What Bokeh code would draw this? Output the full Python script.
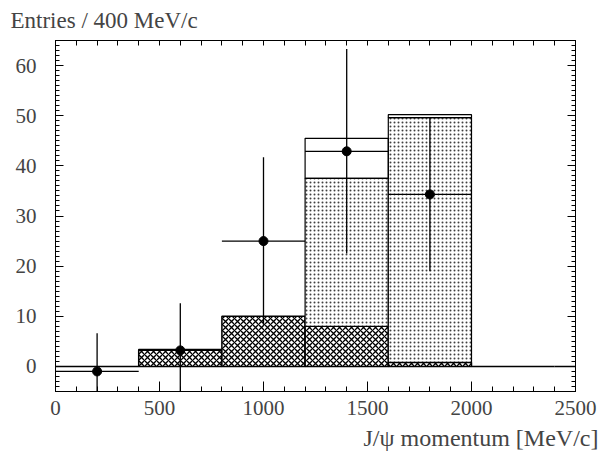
from bokeh.plotting import figure
from bokeh.models import Range1d, LinearAxis, SingleIntervalTicker, Title, ColumnDataSource
from bokeh.embed import file_html
from bokeh.resources import INLINE

# ---- data ----
bin_lo = [0, 400, 800, 1200, 1600, 2000, 2400]
bin_hi = [400, 800, 1200, 1600, 2000, 2400, 2800]
background = [0.0, 3.4, 10.0, 8.0, 0.8, 0.0, 0.0]     # cross-hatched
signal = [0.0, 0.0, 0.0, 29.5, 48.8, 0.0, 0.0]        # stippled, stacked on background
extra = [0.0, 0.0, 0.0, 8.0, 0.6, 0.0, 0.0]           # open boxes, stacked on top

data_x = [200, 600, 1000, 1400, 1800]
data_y = [-1.0, 3.2, 25.0, 42.9, 34.3]
data_err = [7.6, 9.4, 16.7, 20.4, 15.3]
data_halfwidth = [200, 200, 200, 200, 200]

x_ticks_major = 500
y_ticks_major = 10

FONT = "Liberation Serif"

p = figure(width=600, height=466, x_range=Range1d(0, 2500), y_range=Range1d(-5, 65),
           output_backend="svg", toolbar_location=None,
           min_border_left=55, min_border_right=25, min_border_top=40, min_border_bottom=75)
p.xgrid.visible = False
p.ygrid.visible = False
p.outline_line_color = "black"
p.outline_line_width = 1
p.background_fill_color = "white"
p.border_fill_color = "white"

# title (y label)
p.title.text = "Entries / 400 MeV/c"
p.title.align = "left"
p.title.vertical_align = "top"
p.title.offset = -45
p.title.text_font = FONT
p.title.text_font_size = "23px"
p.title.text_font_style = "normal"
p.title.standoff = 12

# bottom axis
xa = p.xaxis[0]
xa.ticker = SingleIntervalTicker(interval=x_ticks_major, num_minor_ticks=5)
xa.major_tick_in = 10
xa.major_tick_out = 0
xa.minor_tick_in = 5
xa.minor_tick_out = 0
xa.major_label_text_font = FONT
xa.major_label_text_font_size = "21px"
xa.major_label_standoff = 9
xa.axis_line_color = "black"

# left axis
ya = p.yaxis[0]
ya.ticker = SingleIntervalTicker(interval=y_ticks_major, num_minor_ticks=10)
ya.major_tick_in = 8
ya.major_tick_out = 0
ya.minor_tick_in = 4
ya.minor_tick_out = 0
ya.major_label_text_font = FONT
ya.major_label_text_font_size = "21px"
ya.major_label_standoff = 19
ya.axis_line_color = "black"

# mirror axes (ticks only)
top = LinearAxis(ticker=SingleIntervalTicker(interval=100, num_minor_ticks=0),
                 major_tick_in=5, major_tick_out=0, minor_tick_in=0, minor_tick_out=0,
                 major_label_text_color=None, major_label_text_font_size="1px",
                 major_label_standoff=0)
p.add_layout(top, "above")
right = LinearAxis(ticker=SingleIntervalTicker(interval=y_ticks_major, num_minor_ticks=10),
                   major_tick_in=8, major_tick_out=0, minor_tick_in=4, minor_tick_out=0,
                   major_label_text_color=None, major_label_text_font_size="1px",
                   major_label_standoff=0)
p.add_layout(right, "right")

# x label
p.add_layout(Title(text="J/\u03c8 momentum [MeV/c]", align="right", offset=-23,
                   text_font=FONT, text_font_size="24px", text_font_style="normal",
                   standoff=10), "below")

# histograms
bg_src = ColumnDataSource(dict(l=bin_lo, r=bin_hi, b=[0.0] * len(bin_lo), t=background))
p.quad(left="l", right="r", bottom="b", top="t", source=bg_src,
       fill_color="white", hatch_pattern="diagonal_cross", hatch_scale=6, hatch_weight=1.3,
       hatch_color="black", line_color="black", line_width=1.5)

idx = [i for i, s in enumerate(signal) if s > 0]
sig_src = ColumnDataSource(dict(
    l=[bin_lo[i] for i in idx], r=[bin_hi[i] for i in idx],
    b=[background[i] for i in idx], t=[background[i] + signal[i] for i in idx]))
p.quad(left="l", right="r", bottom="b", top="t", source=sig_src,
       fill_color="white", hatch_pattern="dot", hatch_scale=4, hatch_weight=0.8,
       hatch_color="black", hatch_alpha=0.75, line_color="black", line_width=1.2)

idx2 = [i for i, e in enumerate(extra) if e > 0]
ex_src = ColumnDataSource(dict(
    l=[bin_lo[i] for i in idx2], r=[bin_hi[i] for i in idx2],
    b=[background[i] + signal[i] for i in idx2],
    t=[background[i] + signal[i] + extra[i] for i in idx2]))
p.quad(left="l", right="r", bottom="b", top="t", source=ex_src,
       fill_color=None, line_color="black", line_width=1.2)

# data points with error bars
pts = ColumnDataSource(dict(
    x=data_x, y=data_y,
    x0=[x - h for x, h in zip(data_x, data_halfwidth)],
    x1=[x + h for x, h in zip(data_x, data_halfwidth)],
    ylo=[y - e for y, e in zip(data_y, data_err)],
    yhi=[y + e for y, e in zip(data_y, data_err)]))
p.segment(x0="x0", x1="x1", y0="y", y1="y", source=pts, line_color="black", line_width=1.3)
p.segment(x0="x", x1="x", y0="ylo", y1="yhi", source=pts, line_color="black", line_width=1.3)
p.scatter(x="x", y="y", source=pts, marker="circle", size=9, color="black")

open("out.html", "w").write(file_html(p, INLINE))
